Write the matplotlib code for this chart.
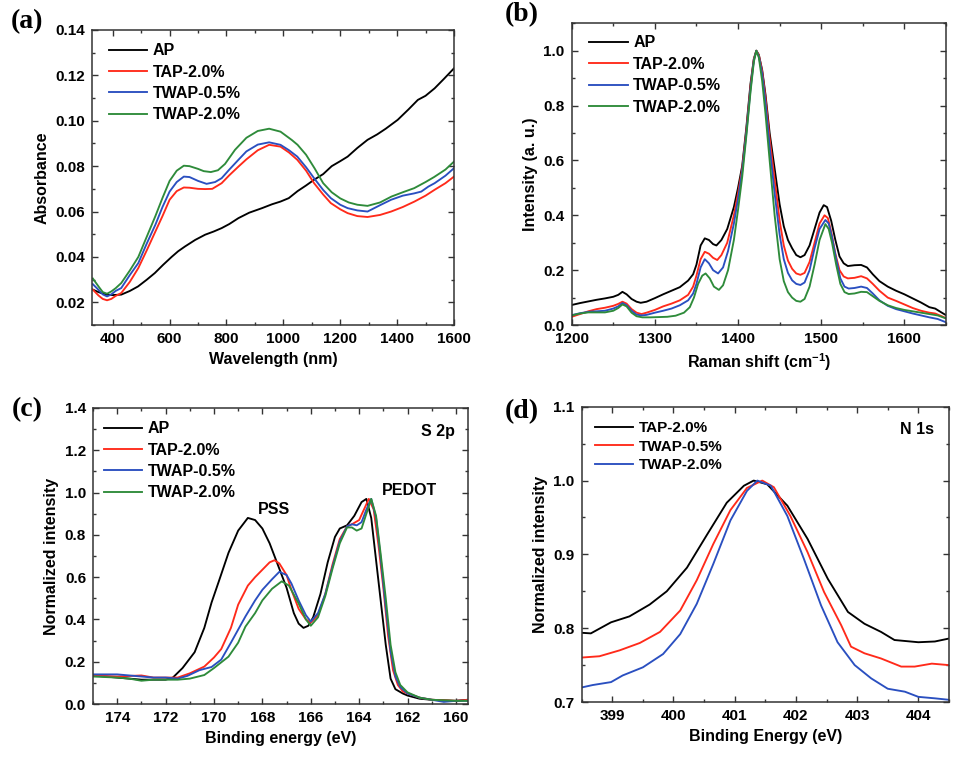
import numpy as np
import matplotlib
matplotlib.use("Agg")
import matplotlib.pyplot as plt
from matplotlib.ticker import MultipleLocator, FormatStrFormatter

# ------------------------------------------------------------
# 1. DATA

series_a = ["AP", "TAP-2.0%", "TWAP-0.5%", "TWAP-2.0%"]
series_d = ["TAP-2.0%", "TWAP-0.5%", "TWAP-2.0%"]

# (a) UV-vis-NIR absorbance
wl_ap = [330, 350, 377, 400, 430, 460, 489, 520, 548, 577, 607, 630, 654, 690, 725, 755,
         783, 810, 842, 880, 925, 960, 990, 1019, 1050, 1080, 1108, 1140, 1170, 1200,
         1226, 1260, 1296, 1330, 1360, 1402, 1440, 1473, 1500, 1532, 1565, 1600]
abs_ap = [0.0256, 0.0245, 0.0234, 0.0232, 0.0234, 0.0250, 0.0270, 0.0300, 0.0329, 0.0365,
          0.0400, 0.0425, 0.0446, 0.0475, 0.0498, 0.0512, 0.0527, 0.0545, 0.0571, 0.0595,
          0.0615, 0.0632, 0.0644, 0.0659, 0.0690, 0.0715, 0.0740, 0.0765, 0.0800, 0.0822,
          0.0842, 0.0880, 0.0916, 0.0940, 0.0965, 0.1004, 0.1050, 0.1092, 0.1110, 0.1143,
          0.1185, 0.1231]

wl_tap = [330, 350, 365, 380, 395, 410, 430, 460, 490, 520, 550, 575, 600, 625, 650, 670,
          700, 725, 750, 783, 810, 842, 870, 910, 950, 990, 1020, 1049, 1080, 1108, 1140,
          1167, 1200, 1226, 1260, 1296, 1340, 1379, 1420, 1461, 1500, 1532, 1570, 1600]
abs_tap = [0.0256, 0.0230, 0.0215, 0.0209, 0.0215, 0.0228, 0.0241, 0.0290, 0.0351, 0.0430,
           0.0512, 0.0580, 0.0652, 0.0690, 0.0706, 0.0705, 0.0700, 0.0699, 0.0700, 0.0725,
           0.0760, 0.0798, 0.0830, 0.0870, 0.0894, 0.0886, 0.0860, 0.0828, 0.0780, 0.0725,
           0.0675, 0.0637, 0.0610, 0.0593, 0.0580, 0.0576, 0.0585, 0.0600, 0.0620, 0.0644,
           0.0670, 0.0696, 0.0725, 0.0754]

wl_twap05 = [330, 350, 365, 380, 395, 410, 430, 460, 490, 520, 550, 575, 600, 625, 650, 670,
             700, 730, 760, 783, 810, 842, 870, 910, 950, 990, 1020, 1049, 1080, 1108, 1140,
             1167, 1200, 1226, 1260, 1296, 1340, 1379, 1420, 1460, 1485, 1510, 1532, 1570, 1600]
abs_twap05 = [0.0280, 0.0255, 0.0235, 0.0226, 0.0235, 0.0250, 0.0263, 0.0320, 0.0373, 0.0460,
              0.0542, 0.0620, 0.0688, 0.0730, 0.0754, 0.0752, 0.0735, 0.0722, 0.0730, 0.0747,
              0.0785, 0.0828, 0.0865, 0.0895, 0.0905, 0.0894, 0.0870, 0.0842, 0.0795, 0.0747,
              0.0695, 0.0659, 0.0630, 0.0615, 0.0605, 0.0600, 0.0628, 0.0652, 0.0670, 0.0680,
              0.0688, 0.0710, 0.0725, 0.0758, 0.0791]

wl_twap20 = [330, 350, 365, 380, 395, 410, 430, 460, 490, 520, 550, 575, 600, 625, 650, 670,
             700, 720, 745, 770, 795, 830, 870, 910, 950, 990, 1030, 1050, 1080, 1110, 1140,
             1170, 1200, 1230, 1260, 1296, 1340, 1380, 1420, 1460, 1500, 1530, 1570, 1600]
abs_twap20 = [0.0305, 0.0270, 0.0245, 0.0238, 0.0248, 0.0262, 0.0285, 0.0340, 0.0400, 0.0490,
              0.0580, 0.0660, 0.0735, 0.0780, 0.0802, 0.0800, 0.0788, 0.0778, 0.0774, 0.0782,
              0.0810, 0.0872, 0.0925, 0.0955, 0.0965, 0.0952, 0.0915, 0.0894, 0.0850, 0.0790,
              0.0725, 0.0685, 0.0658, 0.0640, 0.0630, 0.0625, 0.0640, 0.0666, 0.0685, 0.0703,
              0.0730, 0.0752, 0.0785, 0.0820]

# (b) Raman
rs_ap = [1200, 1210, 1220, 1230, 1240, 1250, 1256, 1261, 1266, 1272, 1278, 1283, 1290, 1300,
         1310, 1320, 1330, 1340, 1346, 1350, 1355, 1360, 1365, 1370, 1374, 1380, 1387, 1395,
         1400, 1405, 1410, 1415, 1419, 1422, 1425, 1429, 1433, 1438, 1444, 1450, 1455, 1460,
         1465, 1470, 1475, 1480, 1486, 1492, 1498, 1503, 1507, 1512, 1517, 1522, 1527, 1532,
         1540, 1548, 1555, 1562, 1570, 1580, 1590, 1600, 1610, 1620, 1630, 1637, 1645, 1650]
int_ap = [0.073, 0.080, 0.086, 0.092, 0.097, 0.103, 0.110, 0.121, 0.112, 0.095, 0.085, 0.081,
          0.085, 0.098, 0.112, 0.125, 0.138, 0.162, 0.185, 0.220, 0.290, 0.316, 0.310, 0.295,
          0.290, 0.310, 0.350, 0.430, 0.500, 0.580, 0.720, 0.880, 0.970, 1.000, 0.985, 0.930,
          0.840, 0.700, 0.570, 0.440, 0.360, 0.310, 0.280, 0.255, 0.247, 0.255, 0.290, 0.350,
          0.410, 0.437, 0.430, 0.380, 0.310, 0.250, 0.225, 0.215, 0.218, 0.219, 0.210, 0.185,
          0.160, 0.140, 0.125, 0.112, 0.097, 0.082, 0.065, 0.060, 0.045, 0.036]

rs_tap = [1200, 1210, 1220, 1230, 1240, 1250, 1256, 1261, 1266, 1272, 1278, 1284, 1290, 1300,
          1310, 1320, 1330, 1340, 1346, 1350, 1355, 1360, 1365, 1370, 1375, 1380, 1387, 1395,
          1400, 1405, 1410, 1415, 1419, 1422, 1425, 1429, 1433, 1438, 1444, 1450, 1455, 1460,
          1465, 1470, 1475, 1480, 1486, 1492, 1498, 1504, 1508, 1512, 1517, 1522, 1527, 1532,
          1540, 1548, 1555, 1562, 1570, 1580, 1590, 1600, 1610, 1620, 1630, 1637, 1645, 1650]
int_tap = [0.030, 0.040, 0.050, 0.058, 0.063, 0.070, 0.077, 0.085, 0.078, 0.058, 0.045, 0.040,
           0.045, 0.055, 0.068, 0.078, 0.090, 0.110, 0.140, 0.180, 0.240, 0.267, 0.260, 0.245,
           0.237, 0.255, 0.300, 0.400, 0.480, 0.570, 0.710, 0.870, 0.970, 1.000, 0.985, 0.925,
           0.830, 0.680, 0.530, 0.380, 0.290, 0.235, 0.205, 0.188, 0.183, 0.190, 0.230, 0.300,
           0.370, 0.400, 0.390, 0.340, 0.260, 0.200, 0.177, 0.170, 0.172, 0.178, 0.170, 0.150,
           0.125, 0.100, 0.088, 0.075, 0.062, 0.052, 0.045, 0.042, 0.032, 0.025]

rs_twap05 = [1200, 1210, 1220, 1230, 1240, 1250, 1256, 1261, 1266, 1272, 1278, 1284, 1290, 1300,
             1310, 1320, 1330, 1340, 1346, 1350, 1355, 1360, 1365, 1370, 1376, 1382, 1388, 1395,
             1400, 1405, 1410, 1415, 1419, 1422, 1425, 1429, 1433, 1438, 1444, 1450, 1455, 1460,
             1465, 1470, 1475, 1480, 1486, 1492, 1498, 1505, 1509, 1513, 1518, 1523, 1528, 1533,
             1540, 1548, 1555, 1562, 1570, 1580, 1590, 1600, 1610, 1620, 1630, 1640, 1650]
int_twap05 = [0.036, 0.043, 0.048, 0.050, 0.052, 0.060, 0.068, 0.080, 0.072, 0.052, 0.038, 0.035,
              0.037, 0.045, 0.052, 0.060, 0.072, 0.090, 0.115, 0.150, 0.210, 0.240, 0.225, 0.200,
              0.188, 0.210, 0.270, 0.370, 0.460, 0.560, 0.700, 0.860, 0.965, 1.000, 0.980, 0.915,
              0.810, 0.650, 0.480, 0.330, 0.240, 0.190, 0.163, 0.150, 0.146, 0.155, 0.200, 0.280,
              0.350, 0.383, 0.370, 0.320, 0.240, 0.170, 0.140, 0.133, 0.135, 0.140, 0.135, 0.115,
              0.090, 0.070, 0.058, 0.050, 0.042, 0.035, 0.028, 0.022, 0.010]

rs_twap20 = [1200, 1210, 1220, 1230, 1240, 1250, 1256, 1261, 1266, 1272, 1278, 1285, 1295, 1305,
             1315, 1325, 1335, 1342, 1347, 1352, 1357, 1361, 1366, 1371, 1377, 1382, 1388, 1395,
             1400, 1405, 1410, 1415, 1419, 1422, 1425, 1429, 1433, 1438, 1444, 1450, 1455, 1460,
             1465, 1470, 1475, 1480, 1486, 1492, 1498, 1505, 1509, 1513, 1518, 1523, 1528, 1533,
             1540, 1548, 1555, 1562, 1570, 1580, 1590, 1600, 1610, 1620, 1630, 1640, 1650]
int_twap20 = [0.035, 0.042, 0.046, 0.046, 0.046, 0.052, 0.062, 0.075, 0.068, 0.045, 0.032, 0.028,
              0.028, 0.029, 0.030, 0.034, 0.045, 0.065, 0.100, 0.150, 0.180, 0.188, 0.170, 0.140,
              0.128, 0.145, 0.200, 0.310, 0.420, 0.540, 0.690, 0.850, 0.960, 1.000, 0.975, 0.890,
              0.770, 0.600, 0.400, 0.240, 0.160, 0.120, 0.100, 0.088, 0.085, 0.095, 0.140, 0.220,
              0.310, 0.368, 0.350, 0.300, 0.220, 0.150, 0.120, 0.113, 0.115, 0.121, 0.120, 0.105,
              0.088, 0.072, 0.062, 0.055, 0.050, 0.045, 0.040, 0.035, 0.024]

# (c) XPS S 2p
be_s_ap = [175.0, 174.5, 174.0, 173.5, 173.0, 172.5, 172.0, 171.7, 171.3, 170.8, 170.4, 170.1,
           169.8, 169.4, 169.0, 168.6, 168.3, 168.0, 167.7, 167.4, 167.0, 166.7, 166.5, 166.3,
           166.1, 165.9, 165.6, 165.3, 165.0, 164.8, 164.5, 164.2, 163.9, 163.7, 163.5, 163.3,
           163.1, 162.9, 162.7, 162.5, 162.2, 162.0, 161.5, 161.0, 160.0, 159.5]
s2p_ap = [0.135, 0.130, 0.125, 0.120, 0.115, 0.115, 0.115, 0.125, 0.170, 0.245, 0.360, 0.480,
          0.580, 0.715, 0.820, 0.880, 0.870, 0.830, 0.760, 0.670, 0.550, 0.430, 0.380, 0.360,
          0.370, 0.410, 0.520, 0.670, 0.790, 0.830, 0.845, 0.890, 0.955, 0.970, 0.880, 0.680,
          0.480, 0.280, 0.120, 0.070, 0.050, 0.040, 0.025, 0.020, 0.015, 0.020]

be_s_tap = [175.0, 174.0, 173.0, 172.5, 172.0, 171.5, 171.0, 170.4, 170.0, 169.7, 169.3, 169.0,
            168.6, 168.3, 168.0, 167.7, 167.5, 167.3, 167.0, 166.8, 166.5, 166.2, 166.0, 165.7,
            165.4, 165.1, 164.8, 164.5, 164.3, 164.0, 163.8, 163.6, 163.4, 163.2, 163.0, 162.8,
            162.6, 162.4, 162.2, 162.0, 161.5, 161.0, 160.0, 159.5]
s2p_tap = [0.135, 0.130, 0.135, 0.125, 0.125, 0.125, 0.145, 0.177, 0.220, 0.260, 0.360, 0.470,
           0.560, 0.600, 0.635, 0.670, 0.680, 0.665, 0.610, 0.540, 0.450, 0.400, 0.385, 0.420,
           0.520, 0.660, 0.780, 0.840, 0.850, 0.870, 0.920, 0.970, 0.920, 0.750, 0.550, 0.320,
           0.160, 0.090, 0.060, 0.050, 0.030, 0.020, 0.015, 0.020]

be_s_twap05 = [175.0, 174.0, 173.5, 173.0, 172.5, 172.0, 171.5, 171.1, 170.6, 170.1, 169.7, 169.3,
               168.7, 168.3, 168.0, 167.6, 167.3, 167.0, 166.8, 166.5, 166.2, 166.0, 165.7, 165.4,
               165.1, 164.8, 164.5, 164.3, 164.1, 163.9, 163.7, 163.5, 163.3, 163.1, 162.9, 162.7,
               162.5, 162.3, 162.0, 161.5, 160.5, 160.0, 159.5]
s2p_twap05 = [0.140, 0.140, 0.135, 0.130, 0.125, 0.125, 0.120, 0.133, 0.160, 0.175, 0.210, 0.290,
              0.414, 0.490, 0.540, 0.590, 0.625, 0.610, 0.570, 0.490, 0.420, 0.390, 0.430, 0.520,
              0.650, 0.770, 0.840, 0.850, 0.845, 0.860, 0.920, 0.970, 0.880, 0.680, 0.460, 0.250,
              0.130, 0.080, 0.050, 0.030, 0.010, 0.015, 0.015]

be_s_twap20 = [175.0, 174.0, 173.5, 173.0, 172.5, 172.0, 171.5, 171.0, 170.4, 170.0, 169.4, 169.0,
               168.7, 168.3, 168.0, 167.6, 167.2, 166.9, 166.5, 166.2, 166.0, 165.7, 165.4, 165.1,
               164.8, 164.5, 164.3, 164.1, 163.9, 163.7, 163.5, 163.3, 163.1, 162.9, 162.7, 162.5,
               162.3, 162.0, 161.5, 161.0, 160.0, 159.5]
s2p_twap20 = [0.130, 0.125, 0.120, 0.110, 0.115, 0.115, 0.115, 0.120, 0.137, 0.170, 0.224, 0.290,
              0.366, 0.430, 0.490, 0.545, 0.580, 0.560, 0.475, 0.400, 0.370, 0.410, 0.510, 0.640,
              0.760, 0.835, 0.835, 0.820, 0.830, 0.900, 0.970, 0.890, 0.700, 0.500, 0.280, 0.150,
              0.090, 0.055, 0.030, 0.020, 0.015, 0.015]

# (d) XPS N 1s
be_n_tap = [398.46, 398.65, 398.98, 399.28, 399.61, 399.89, 400.22, 400.55, 400.87, 401.15,
            401.31, 401.53, 401.86, 402.19, 402.52, 402.85, 403.12, 403.39, 403.61, 404.00,
            404.27, 404.50]
n1s_tap = [0.794, 0.793, 0.808, 0.816, 0.832, 0.850, 0.882, 0.927, 0.970, 0.993, 1.000, 0.995,
           0.966, 0.921, 0.867, 0.822, 0.806, 0.795, 0.784, 0.781, 0.782, 0.786]

be_n_twap05 = [398.46, 398.79, 399.12, 399.45, 399.78, 400.11, 400.38, 400.65, 400.93, 401.20,
               401.45, 401.64, 401.91, 402.19, 402.46, 402.74, 402.90, 403.12, 403.39, 403.72,
               403.94, 404.22, 404.50]
n1s_twap05 = [0.760, 0.762, 0.770, 0.780, 0.795, 0.824, 0.865, 0.914, 0.960, 0.990, 1.000, 0.991,
              0.952, 0.903, 0.849, 0.804, 0.775, 0.766, 0.759, 0.748, 0.748, 0.752, 0.750]

be_n_twap20 = [398.46, 398.68, 398.98, 399.17, 399.50, 399.83, 400.11, 400.38, 400.65, 400.93,
               401.20, 401.37, 401.59, 401.86, 402.13, 402.41, 402.68, 402.96, 403.23, 403.50,
               403.78, 404.00, 404.27, 404.50]
n1s_twap20 = [0.719, 0.723, 0.727, 0.736, 0.747, 0.765, 0.792, 0.833, 0.887, 0.946, 0.986, 1.000,
              0.993, 0.952, 0.894, 0.831, 0.781, 0.750, 0.732, 0.718, 0.714, 0.707, 0.705, 0.703]

# ------------------------------------------------------------
# 2. STYLE

plt.rcParams["font.family"] = ["Liberation Sans", "DejaVu Sans"]
plt.rcParams["font.weight"] = "bold"
plt.rcParams["axes.labelweight"] = "bold"
plt.rcParams["mathtext.fontset"] = "custom"
plt.rcParams["mathtext.rm"] = "Liberation Sans:bold"
plt.rcParams["mathtext.bf"] = "Liberation Sans:bold"

cores4 = ["#000000", "#ff2a1a", "#2a4fc0", "#2e8b3a"]
cores3 = ["#000000", "#ff2a1a", "#2a4fc0"]
LW = 1.35


def estilo_eixo(ax, xmaj, xmin, ymaj, ymin, yfmt):
    ax.xaxis.set_major_locator(MultipleLocator(xmaj))
    ax.xaxis.set_minor_locator(MultipleLocator(xmin))
    ax.yaxis.set_major_locator(MultipleLocator(ymaj))
    ax.yaxis.set_minor_locator(MultipleLocator(ymin))
    ax.yaxis.set_major_formatter(FormatStrFormatter(yfmt))
    ax.tick_params(which="both", direction="in", top=True, right=True,
                   labelsize=11, width=1.0, color="#333333")
    ax.tick_params(which="major", length=4.5, pad=5)
    ax.tick_params(which="minor", length=2.5)
    for s in ax.spines.values():
        s.set_linewidth(1.1)
        s.set_color("#333333")


def legenda(ax, x, y, spacing=0.4):
    ax.legend(loc="upper left", bbox_to_anchor=(x, y), frameon=False,
              fontsize=11.5, handlelength=2.4, handletextpad=0.35,
              borderpad=0, borderaxespad=0, labelspacing=spacing)


fig = plt.figure(figsize=(9.6, 7.61), dpi=100)

# ------------------------------------------------------------
# 3. (a) Absorbance

ax_a = fig.add_axes([0.0958, 0.5729, 0.3771, 0.3877])
ax_a.plot(wl_ap, abs_ap, color=cores4[0], lw=LW, label=series_a[0])
ax_a.plot(wl_tap, abs_tap, color=cores4[1], lw=LW, label=series_a[1])
ax_a.plot(wl_twap05, abs_twap05, color=cores4[2], lw=LW, label=series_a[2])
ax_a.plot(wl_twap20, abs_twap20, color=cores4[3], lw=LW, label=series_a[3])
ax_a.set_xlim(327, 1600)
ax_a.set_ylim(0.01, 0.14)
estilo_eixo(ax_a, 200, 100, 0.02, 0.01, "%.2f")
ax_a.set_xlabel("Wavelength (nm)", fontsize=11.5)
ax_a.set_ylabel("Absorbance", fontsize=11.5)
legenda(ax_a, 0.047, 0.955)

# ------------------------------------------------------------
# 4. (b) Raman

ax_b = fig.add_axes([0.5955, 0.5729, 0.3899, 0.3965])
ax_b.plot(rs_ap, int_ap, color=cores4[0], lw=LW, label=series_a[0])
ax_b.plot(rs_tap, int_tap, color=cores4[1], lw=LW, label=series_a[1])
ax_b.plot(rs_twap05, int_twap05, color=cores4[2], lw=LW, label=series_a[2])
ax_b.plot(rs_twap20, int_twap20, color=cores4[3], lw=LW, label=series_a[3])
ax_b.set_xlim(1200, 1650)
ax_b.set_ylim(0, 1.1)
estilo_eixo(ax_b, 100, 50, 0.2, 0.1, "%.1f")
ax_b.set_xlabel(r"Raman shift (cm$^{-1}$)", fontsize=11.5)
ax_b.set_ylabel("Intensity (a. u.)", fontsize=11.5)
legenda(ax_b, 0.047, 0.96)

# ------------------------------------------------------------
# 5. (c) S 2p

ax_c = fig.add_axes([0.0969, 0.0749, 0.3906, 0.3890])
ax_c.plot(be_s_ap, s2p_ap, color=cores4[0], lw=LW, label=series_a[0])
ax_c.plot(be_s_tap, s2p_tap, color=cores4[1], lw=LW, label=series_a[1])
ax_c.plot(be_s_twap05, s2p_twap05, color=cores4[2], lw=LW, label=series_a[2])
ax_c.plot(be_s_twap20, s2p_twap20, color=cores4[3], lw=LW, label=series_a[3])
ax_c.set_xlim(175, 159.5)
ax_c.set_ylim(0, 1.4)
estilo_eixo(ax_c, 2, 1, 0.2, 0.1, "%.1f")
ax_c.set_xlabel("Binding energy (eV)", fontsize=11.5)
ax_c.set_ylabel("Normalized intensity", fontsize=11.5)
legenda(ax_c, 0.028, 0.955)
ax_c.text(0.965, 0.92, "S 2p", transform=ax_c.transAxes, ha="right", va="center",
          fontsize=11.5)
ax_c.text(161.93, 1.01, "PEDOT", ha="center", va="center", fontsize=11.5)
ax_c.text(167.5, 0.92, "PSS", ha="center", va="center", fontsize=11.5)

# ------------------------------------------------------------
# 6. (d) N 1s

ax_d = fig.add_axes([0.6059, 0.0775, 0.3826, 0.3880])
ax_d.plot(be_n_tap, n1s_tap, color=cores3[0], lw=LW, label=series_d[0])
ax_d.plot(be_n_twap05, n1s_twap05, color=cores3[1], lw=LW, label=series_d[1])
ax_d.plot(be_n_twap20, n1s_twap20, color=cores3[2], lw=LW, label=series_d[2])
ax_d.set_xlim(398.5, 404.5)
ax_d.set_ylim(0.7, 1.1)
estilo_eixo(ax_d, 1, 0.5, 0.1, 0.05, "%.1f")
ax_d.set_xlabel("Binding Energy (eV)", fontsize=11.5)
ax_d.set_ylabel("Normalized intensity", fontsize=11.5)
ax_d.legend(loc="upper left", bbox_to_anchor=(0.036, 0.952), frameon=False,
            fontsize=11, handlelength=2.5, handletextpad=0.35,
            borderpad=0, borderaxespad=0, labelspacing=0.3)
ax_d.text(0.959, 0.923, "N 1s", transform=ax_d.transAxes, ha="right", va="center",
          fontsize=11.5)

# ------------------------------------------------------------
# 7. Panel letters

for letra, (px, py) in zip(["(a)", "(b)", "(c)", "(d)"],
                           [(27, 22), (522, 15), (27, 410), (522, 412)]):
    fig.text(px / 960, 1 - py / 761, letra, family="Liberation Serif",
             fontsize=20, fontweight="bold", ha="center", va="center")

fig.savefig("out.png", dpi=100)
